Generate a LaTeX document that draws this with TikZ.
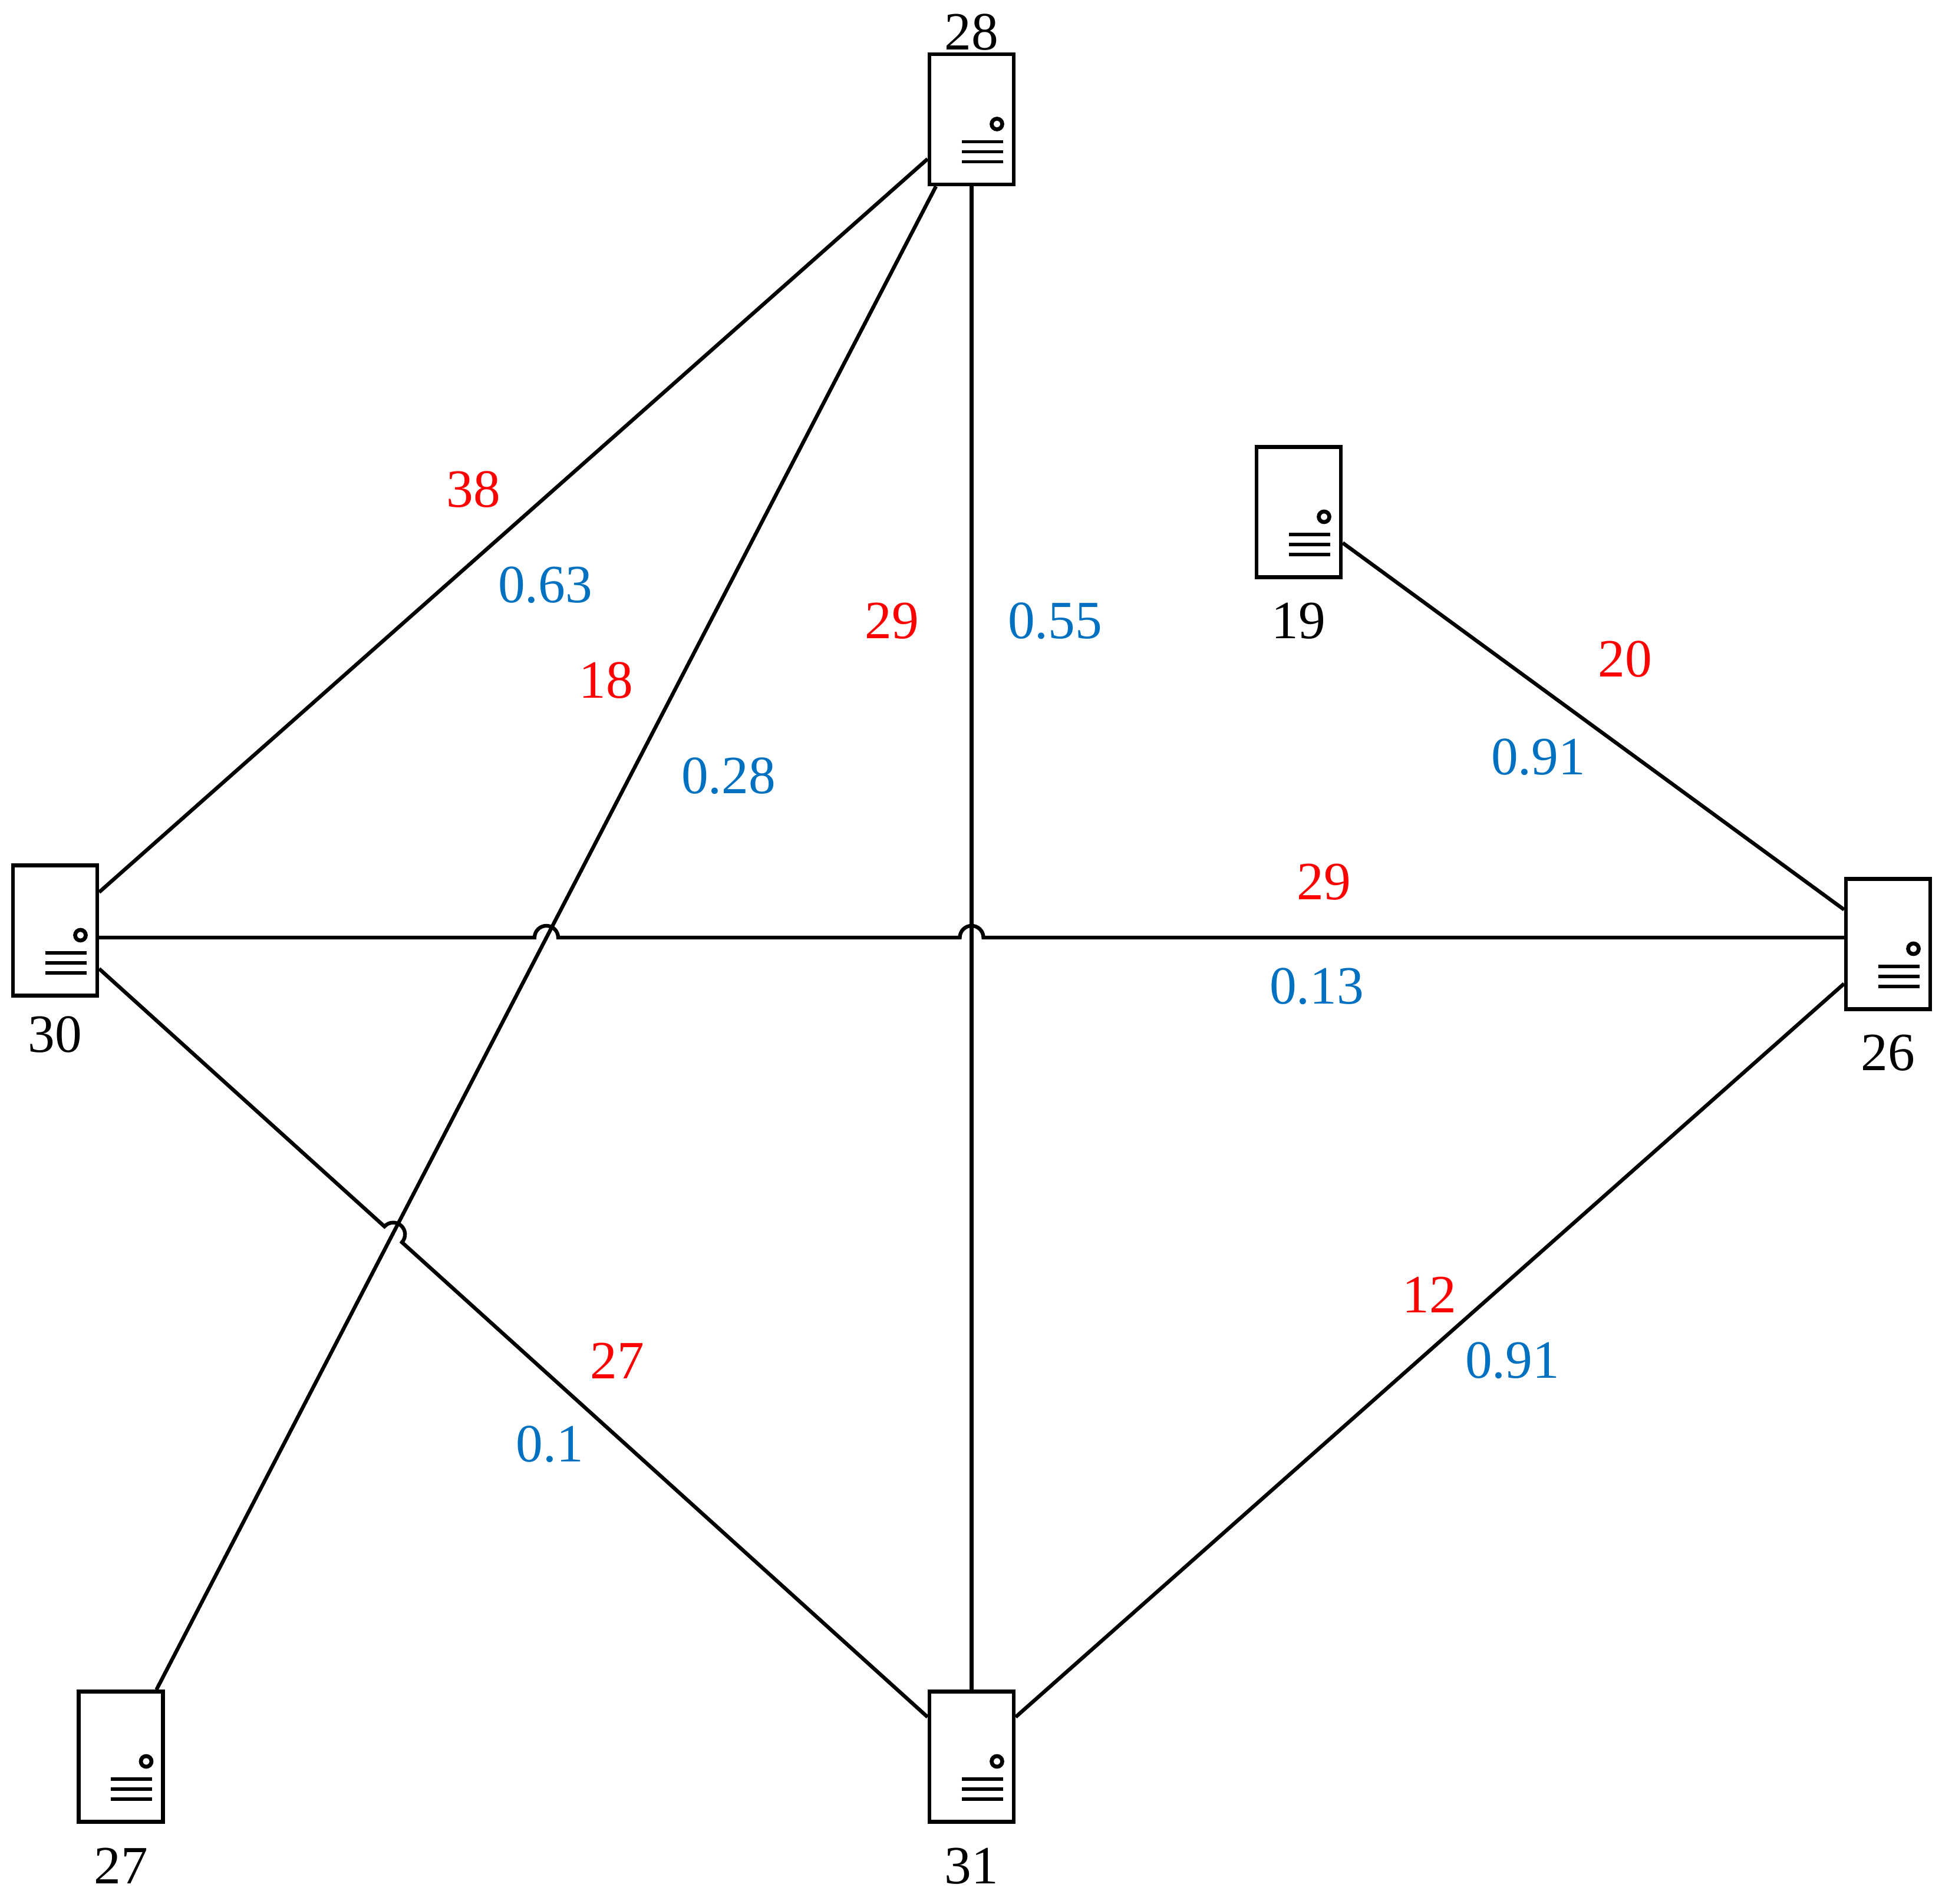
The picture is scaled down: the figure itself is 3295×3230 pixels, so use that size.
\documentclass[tikz,border=0pt]{standalone}
\usepackage{fontspec}
\setmainfont{Liberation Serif}
\usetikzlibrary{positioning,calc}
\definecolor{myred}{RGB}{255,0,0}
\definecolor{myblue}{RGB}{0,112,192}
\tikzset{
    line/.style   = {draw=black, line width=1.8pt},
    server/.style = {draw=black, line width=1.8pt, fill=white,
            minimum width=1.43cm, minimum height=2.21cm, inner sep=0pt,
            path picture={
                \draw[line width=1.9pt] ($(path picture bounding box.center)+(43,-8)$) circle[radius=9];
                \foreach \dy in {38,55,72}
                    \draw[line width=1.6pt] ($(path picture bounding box.center)+(-17,-\dy)$) -- ++(70,0);
            }},
    idlabel/.style   = {inner sep=0pt, font=\fontsize{26}{30}\selectfont},
    costlabel/.style = {idlabel, text=myred},
    ratelabel/.style = {idlabel, text=myblue},
}
\begin{document}
\begin{tikzpicture}[x=0.01cm,y=0.01cm]
    \useasboundingbox (0,0) rectangle (3295,3230);
    % Nodes
    \node[server] (n28) at (1648.5,3027.5) {};
    \node[server] (n19) at (2203.5,2361) {};
    \node[server] (n30) at (93.5,1651) {};
    \node[server] (n26) at (3203.5,1628) {};
    \node[server] (n27) at (205,249) {};
    \node[server] (n31) at (1648.5,249) {};
    % Ids
    \node[idlabel, above=0.3mm of n28] (id28) {28};
    \node[idlabel, below=4mm of n19] (id19) {19};
    \node[idlabel, below=3.1mm of n30] (id30) {30};
    \node[idlabel, below=4mm of n26] (id26) {26};
    \node[idlabel, below=4mm of n27] (id27) {27};
    \node[idlabel, below=4mm of n31] (id31) {31};
    % Jumps
    \coordinate (jumpA) at (927,1639);
    \coordinate (jumpB) at (1648.5,1639);
    \coordinate (jumpC) at ($(n30.-41)!0.355!(n31.138)$);
    % Arrows
    \draw[line] (n30.41) -- (n28.222);
    \draw[line] (n28.242) -- (n27.62);
    \draw[line] (n28.south) -- (n31.north);
    \draw[line] (n19.-35.5) -- (n26.142.4);
    \draw[line] (n31.42) -- (n26.-138);
    \draw[line] (n30.east |- jumpA) -- ($(jumpA)+(-20,0)$)
        arc[start angle=180,end angle=0,radius=20] -- ($(jumpB)+(-20,0)$)
        arc[start angle=180,end angle=0,radius=20] -- (n26.west |- jumpA);
    \draw[line] (n30.-41) -- ($(jumpC)!0.2cm!(n30.-41)$)
        arc[start angle=137.9,end angle=-42.1,radius=20] -- (n31.138);
    % Labels
    \node[costlabel] (c3028) at (803,2399) {38};
    \node[ratelabel] (r3028) at (925,2237) {0.63};
    \node[costlabel] (c2827) at (1028,2075) {18};
    \node[ratelabel] (r2827) at (1236,1913) {0.28};
    \node[costlabel] (c2831) at (1513,2176) {29};
    \node[ratelabel] (r2831) at (1790,2176) {0.55};
    \node[costlabel] (c1926) at (2757,2111) {20};
    \node[ratelabel] (r1926) at (2610,1945) {0.91};
    \node[costlabel] (c3026) at (2246,1733) {29};
    \node[ratelabel] (r3026) at (2234,1556) {0.13};
    \node[costlabel] (c3126) at (2425,1033) {12};
    \node[ratelabel] (r3126) at (2566,921) {0.91};
    \node[costlabel] (c3031) at (1047,921) {27};
    \node[ratelabel] (r3031) at (933,779) {0.1};
\end{tikzpicture}
\end{document}
